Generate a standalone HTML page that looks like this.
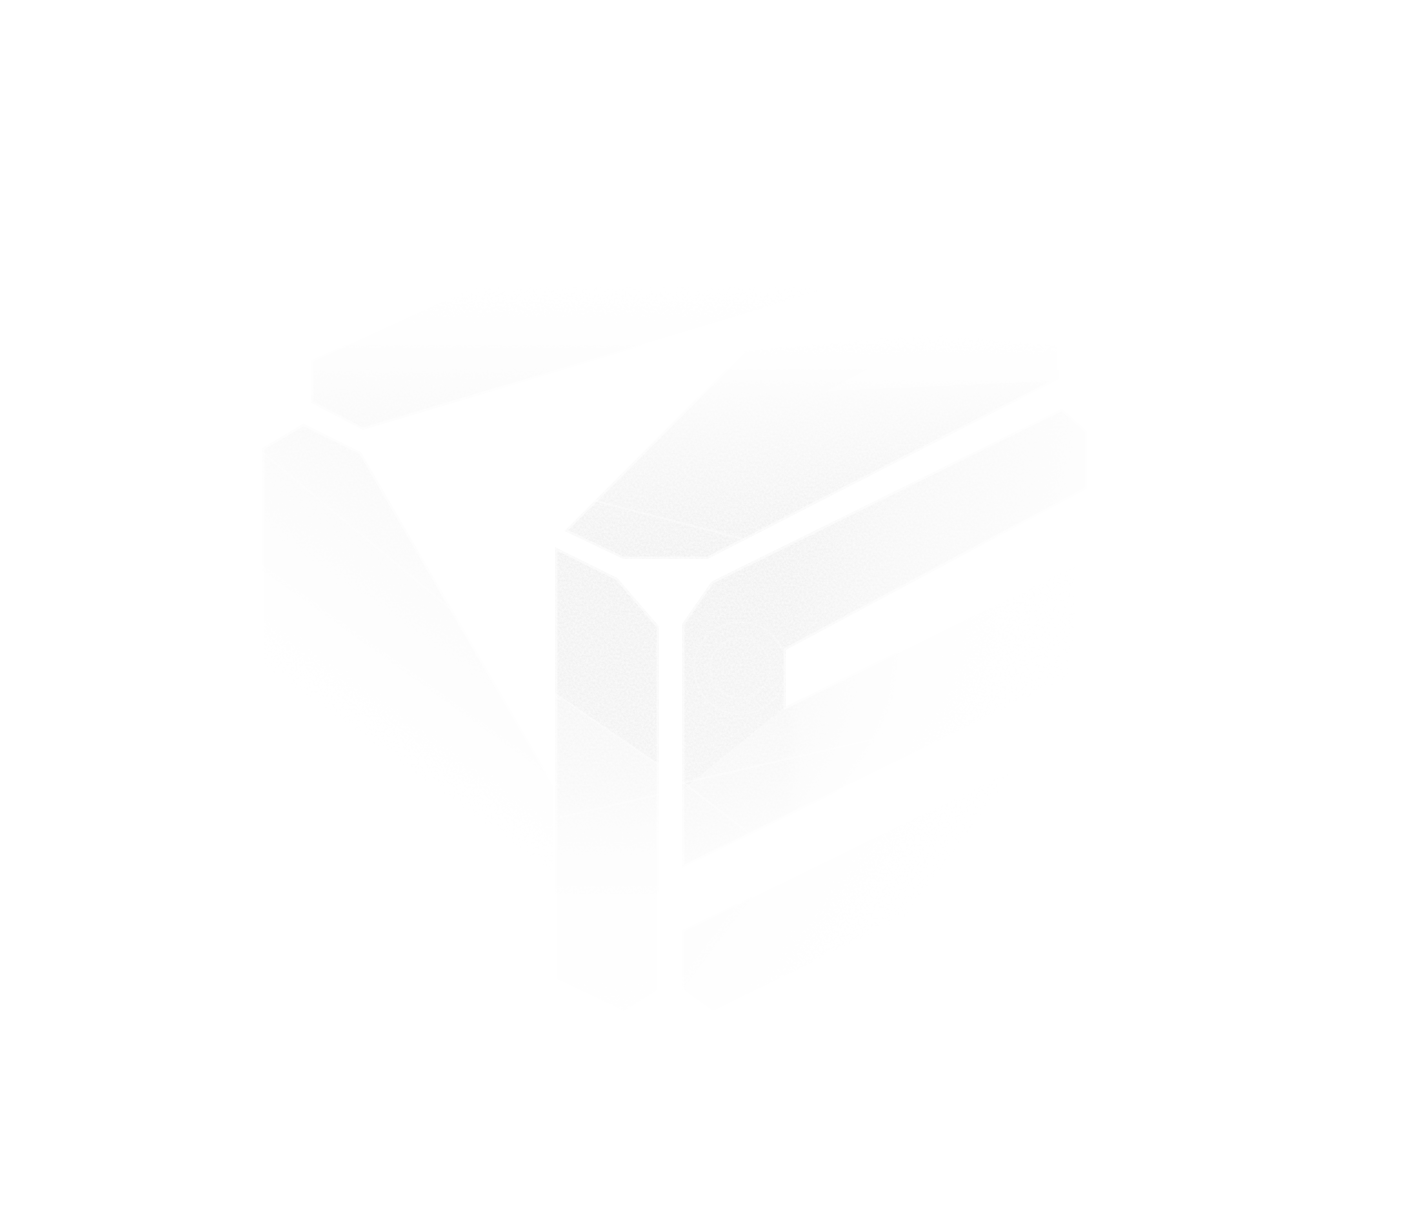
<!DOCTYPE html>
<html lang="en">
<head>
<meta charset="utf-8">
<title>Loading</title>
<style>
html,body{margin:0;padding:0;background:#fff;width:1406px;height:1231px;overflow:hidden;font-family:"Liberation Sans",sans-serif;}
svg{position:absolute;left:0;top:0;display:block}
</style>
</head>
<body>
<svg width="1406" height="1231" viewBox="0 0 1406 1231">
<defs>
<linearGradient id="gFLa" gradientUnits="userSpaceOnUse" x1="0" y1="547" x2="0" y2="770"><stop offset="0" stop-color="#000" stop-opacity="0.4000"/><stop offset="0.6413" stop-color="#000" stop-opacity="0.3725"/><stop offset="1" stop-color="#000" stop-opacity="0.3412"/></linearGradient>
<linearGradient id="gFLb" gradientUnits="userSpaceOnUse" x1="0" y1="690" x2="0" y2="1013"><stop offset="0" stop-color="#000" stop-opacity="0.2824"/><stop offset="0.1548" stop-color="#000" stop-opacity="0.2431"/><stop offset="0.3065" stop-color="#000" stop-opacity="0.1961"/><stop offset="0.4365" stop-color="#000" stop-opacity="0.1176"/><stop offset="0.5666" stop-color="#000" stop-opacity="0.0667"/><stop offset="0.6966" stop-color="#000" stop-opacity="0.0471"/><stop offset="0.9288" stop-color="#000" stop-opacity="0.0314"/><stop offset="1" stop-color="#000" stop-opacity="0.0235"/></linearGradient>
<linearGradient id="gTop" gradientUnits="userSpaceOnUse" x1="0" y1="559" x2="0" y2="334"><stop offset="0" stop-color="#000" stop-opacity="0.4000"/><stop offset="0.1733" stop-color="#000" stop-opacity="0.3647"/><stop offset="0.4222" stop-color="#000" stop-opacity="0.2667"/><stop offset="0.6889" stop-color="#000" stop-opacity="0.1490"/><stop offset="0.7733" stop-color="#000" stop-opacity="0.1020"/><stop offset="0.8489" stop-color="#000" stop-opacity="0.0549"/><stop offset="0.9244" stop-color="#000" stop-opacity="0.0235"/><stop offset="1" stop-color="#000" stop-opacity="0.0000"/></linearGradient>
<linearGradient id="gRFa" gradientUnits="userSpaceOnUse" x1="683" y1="594" x2="776.248" y2="784.311"><stop offset="0" stop-color="#000" stop-opacity="0.3922"/><stop offset="0.2373" stop-color="#000" stop-opacity="0.3882"/><stop offset="0.8305" stop-color="#000" stop-opacity="0.3137"/><stop offset="1" stop-color="#000" stop-opacity="0.2980"/></linearGradient>
<linearGradient id="hU" gradientUnits="userSpaceOnUse" x1="683" y1="0" x2="1087" y2="0"><stop offset="0" stop-color="#fff" stop-opacity="1.0000"/><stop offset="0.2649" stop-color="#fff" stop-opacity="1.0000"/><stop offset="0.5371" stop-color="#fff" stop-opacity="0.6000"/><stop offset="0.9332" stop-color="#fff" stop-opacity="0.2500"/><stop offset="1" stop-color="#fff" stop-opacity="0.2000"/></linearGradient>
<mask id="mRF" maskUnits="userSpaceOnUse" x="0" y="0" width="1406" height="1231">
<rect x="0" y="0" width="1406" height="1231" fill="url(#hU)"/>
</mask>
<linearGradient id="gRFb" gradientUnits="userSpaceOnUse" x1="683" y1="750" x2="750.17" y2="887.089"><stop offset="0" stop-color="#000" stop-opacity="0.2353"/><stop offset="0.2941" stop-color="#000" stop-opacity="0.2157"/><stop offset="0.4706" stop-color="#000" stop-opacity="0.1765"/><stop offset="0.7059" stop-color="#000" stop-opacity="0.1176"/><stop offset="0.8235" stop-color="#000" stop-opacity="0.0863"/><stop offset="1" stop-color="#000" stop-opacity="0.0588"/></linearGradient>
<linearGradient id="hL" gradientUnits="userSpaceOnUse" x1="683" y1="0" x2="1087" y2="0"><stop offset="0" stop-color="#fff" stop-opacity="1.0000"/><stop offset="0.255" stop-color="#fff" stop-opacity="1.0000"/><stop offset="0.2896" stop-color="#fff" stop-opacity="0.7200"/><stop offset="0.4134" stop-color="#fff" stop-opacity="0.4200"/><stop offset="0.5371" stop-color="#fff" stop-opacity="0.2400"/><stop offset="0.7847" stop-color="#fff" stop-opacity="0.0700"/><stop offset="1" stop-color="#fff" stop-opacity="0.0000"/></linearGradient>
<mask id="mRFb" maskUnits="userSpaceOnUse" x="0" y="0" width="1406" height="1231">
<rect x="0" y="0" width="1406" height="1231" fill="url(#hL)"/>
</mask>
<linearGradient id="gRFc" gradientUnits="userSpaceOnUse" x1="700" y1="783.3" x2="900" y2="933.3"><stop offset="0" stop-color="#000" stop-opacity="0.1373"/><stop offset="0.36" stop-color="#000" stop-opacity="0.0667"/><stop offset="0.52" stop-color="#000" stop-opacity="0.0471"/><stop offset="0.8" stop-color="#000" stop-opacity="0.0157"/><stop offset="1" stop-color="#000" stop-opacity="0.0000"/></linearGradient>
<linearGradient id="gLeft" gradientUnits="userSpaceOnUse" x1="330" y1="440" x2="199.5" y2="622.25"><stop offset="0" stop-color="#000" stop-opacity="0.1765"/><stop offset="0.35" stop-color="#000" stop-opacity="0.1137"/><stop offset="0.7" stop-color="#000" stop-opacity="0.0471"/><stop offset="1" stop-color="#000" stop-opacity="0.0000"/></linearGradient>
<linearGradient id="gBar" gradientUnits="userSpaceOnUse" x1="0" y1="430" x2="0" y2="285"><stop offset="0" stop-color="#000" stop-opacity="0.1804"/><stop offset="0.2414" stop-color="#000" stop-opacity="0.1333"/><stop offset="0.4828" stop-color="#000" stop-opacity="0.0745"/><stop offset="0.6897" stop-color="#000" stop-opacity="0.0392"/><stop offset="0.8966" stop-color="#000" stop-opacity="0.0157"/><stop offset="1" stop-color="#000" stop-opacity="0.0000"/></linearGradient>
<filter id="nz" filterUnits="userSpaceOnUse" x="0" y="0" width="1406" height="1231" color-interpolation-filters="sRGB">
<feTurbulence type="fractalNoise" baseFrequency="0.45" numOctaves="2" seed="7" result="t"/>
<feColorMatrix in="t" type="matrix" values="0 0 0 0 0  0 0 0 0 0  0 0 0 0 0  1 0 0 0 0" result="n"/>
<feComposite in="SourceGraphic" in2="n" operator="arithmetic" k1="-0.16" k2="0.18" k3="0.010" k4="-0.005" result="c"/>
<feComponentTransfer in="SourceAlpha" result="m"><feFuncA type="linear" slope="2000" intercept="0"/></feComponentTransfer>
<feComposite in="c" in2="m" operator="in"/>
</filter>
</defs>

<g filter="url(#nz)">
<polygon points="555,547 617.5,578 659,626.3 659,765 555,693.5" fill="url(#gFLa)"/>
<polygon points="555,693.5 659,765 659,991 624,1013 555,980" fill="url(#gFLb)"/>
<polygon points="564.3,531 623.2,559 707.7,559 1059,379.2 1059,346 932,334 744,351" fill="url(#gTop)"/>
<g mask="url(#mRF)"><polygon points="682,624 711.5,581.5 1062.2,408.5 1087,431 1087,489 786,650 786,706.3 682,790.5" fill="url(#gRFa)"/></g>
<g mask="url(#mRFb)"><polygon points="682,790.5 786,706.3 1087,558 1087,670 682,868" fill="url(#gRFb)"/></g>
<polygon points="682,930 1087,732 1087,830 713,1013 682,991" fill="url(#gRFc)"/>
<polygon points="303.5,423.6 361,452 555,786 555,1035 262,1035 262,448" fill="url(#gLeft)"/>
<polygon points="311,360 347,343.5 470,287 840,287 363,430 311,403" fill="url(#gBar)"/>
</g>
<g fill="none" stroke="#fff" stroke-opacity="0.5" stroke-width="5" stroke-linejoin="miter">
<polygon points="555,547 617.5,578 659,626.3 659,991 624,1013 555,980"/>
<polyline points="744,351 564.3,531 623.2,559 707.7,559 1059,379.2 1059,346"/>
<polygon points="682,624 711.5,581.5 1062.2,408.5 1087,431 1087,489 786,650 786,706.3 1087,558 1087,670 682,868"/>
<polygon points="682,930 1087,732 1087,830 713,1013 682,991"/>
<polyline points="262,1035 262,448 303.5,423.6 361,452 555,786"/>
<polyline points="470,287 347,343.5 311,360 311,403 363,430 840,287"/>
</g>
<polygon points="826.6,391 1059,381 1059,346 932,334" fill="#fff" fill-opacity="0.45"/>
<g fill="none" stroke="#fff" stroke-opacity="0.4" stroke-width="2">
<line x1="500" y1="655.6" x2="662" y2="767"/>
<line x1="560" y1="817.4" x2="662" y2="793.8"/>
<line x1="680" y1="783.6" x2="960" y2="719.5"/>
<line x1="680" y1="780" x2="800" y2="872"/>
<circle cx="740" cy="668" r="30" stroke-opacity="0.22"/>
<circle cx="740" cy="668" r="46" stroke-opacity="0.22"/>
<line x1="570" y1="494.3" x2="760" y2="543.3"/>
<line x1="262" y1="452" x2="560" y2="700"/>
</g>

</svg>
</body>
</html>
